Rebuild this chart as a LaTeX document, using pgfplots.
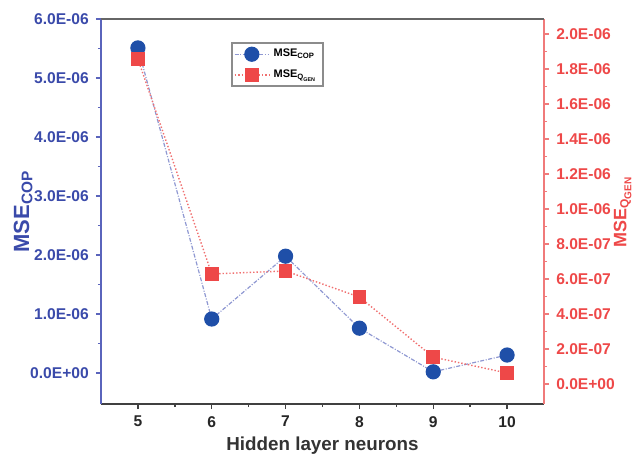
\documentclass[border=0pt]{standalone}
\usepackage{fontspec}
\setmainfont{Liberation Sans}
\usepackage{pgfplots}
\pgfplotsset{compat=1.18}
\definecolor{cblue}{HTML}{1F4FA8}
\definecolor{cbluel}{HTML}{8F98D2}
\definecolor{caxblue}{HTML}{5A64BC}
\definecolor{ctickblue}{HTML}{3A4AAA}
\definecolor{cred}{HTML}{EE4848}
\definecolor{credl}{HTML}{F07070}
\definecolor{caxred}{HTML}{F07A7A}
\pgfplotstableread{
x cop qgen
5 5.51e-6 1.857e-6
6 0.915e-6 0.629e-6
7 1.98e-6 0.646e-6
8 0.76e-6 0.497e-6
9 0.02e-6 0.154e-6
10 0.305e-6 0.063e-6
}\datatable
\begin{document}
\begin{tikzpicture}
\pgfplotsset{
  common/.style={
    scale only axis, width=221.5pt, height=192.5pt,
    xmin=4.5, xmax=10.5,
    tick align=outside,
    major tick length=2.6pt, minor tick length=1.6pt,
    scaled y ticks=false, scaled x ticks=false,
    /pgf/number format/assume math mode=true,
  }
}
\begin{axis}[common,
  ymin=-0.525e-6, ymax=6e-6,
  axis x line*=bottom, axis y line*=left,
  xtick={5,6,7,8,9,10}, minor x tick num=1,
  ytick={0,1e-6,2e-6,3e-6,4e-6,5e-6,6e-6},
  yticklabels={0.0E+00,1.0E-06,2.0E-06,3.0E-06,4.0E-06,5.0E-06,6.0E-06},
  minor y tick num=1,
  x axis line style={black!75, line width=0.9pt, -},
  y axis line style={caxblue, line width=0.9pt, -},
  xtick style={black!75, line width=0.7pt},
  ytick style={caxblue, line width=0.7pt},
  yticklabel style={text=ctickblue, font=\bfseries\fontsize{7.8}{9}\selectfont},
  xticklabel style={text=black!85, font=\bfseries\fontsize{7.8}{9}\selectfont},
  xlabel={Hidden layer neurons},
  xlabel style={text=black!80, font=\bfseries\fontsize{9.4}{11}\selectfont, yshift=2pt},
  ylabel={MSE\textsubscript{COP}},
  ylabel shift=-8pt,
  ylabel style={text=ctickblue, font=\bfseries\fontsize{11}{13}\selectfont},
]
\addplot[cbluel, line width=0.6pt, dash pattern=on 2pt off 0.8pt on 0.5pt off 0.8pt,
  mark=*, mark size=3.5pt, mark options={solid, fill=cblue, draw=cblue}]
  table[x=x, y=cop] {\datatable};
\end{axis}
\begin{axis}[common,
  ymin=-0.114e-6, ymax=2.086e-6,
  axis y line*=right, axis x line=none,
  ytick={0,0.2e-6,0.4e-6,0.6e-6,0.8e-6,1.0e-6,1.2e-6,1.4e-6,1.6e-6,1.8e-6,2.0e-6},
  yticklabels={0.0E+00,2.0E-07,4.0E-07,6.0E-07,8.0E-07,1.0E-06,1.2E-06,1.4E-06,1.6E-06,1.8E-06,2.0E-06},
  minor y tick num=1,
  y axis line style={caxred, line width=0.9pt, -},
  ytick style={caxred, line width=0.7pt},
  yticklabel style={text=cred, font=\bfseries\fontsize{7.8}{9}\selectfont},
  ylabel={MSE\textsubscript{Q\textsubscript{GEN}}},
  ylabel shift=-4pt,
  ylabel style={text=cred, font=\bfseries\fontsize{9}{11}\selectfont, inner sep=0pt},
  legend style={at={(0.294,0.94)}, anchor=north west, draw=black!45, line width=0.8pt,
    font=\bfseries\fontsize{5.5}{7}\selectfont, inner sep=1pt, row sep=1pt},
  legend cell align=left,
  after end axis/.code={
    \draw[black!60, line width=0.9pt] (rel axis cs:0,1) -- (rel axis cs:1,1);
  },
]
\addlegendimage{cbluel, line width=0.6pt, dash pattern=on 2pt off 0.8pt on 0.5pt off 0.8pt,
  mark=*, mark size=3.5pt, mark options={solid, fill=cblue, draw=cblue}}
\addlegendentry{MSE\textsubscript{COP}}
\addplot[credl, line width=0.7pt, densely dotted,
  mark=square*, mark size=3.1pt, mark options={solid, fill=cred, draw=cred}]
  table[x=x, y=qgen] {\datatable};
\addlegendentry{MSE\textsubscript{Q\textsubscript{GEN}}}
\end{axis}
\path ([shift={(-50.5pt,-26.5pt)}]current axis.south west) rectangle ([shift={(45pt,9.5pt)}]current axis.north east);
\end{tikzpicture}
\end{document}
